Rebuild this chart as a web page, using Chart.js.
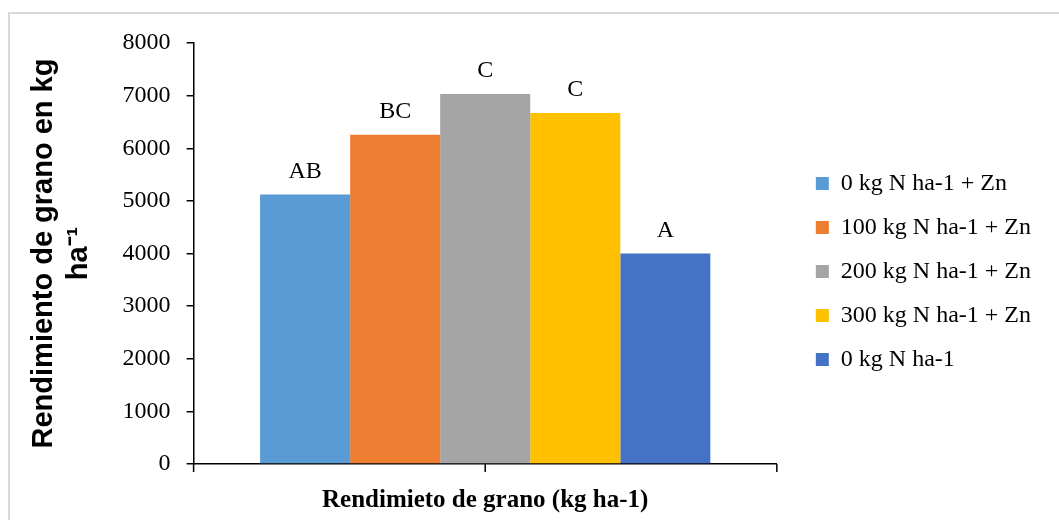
<!DOCTYPE html>
<html>
<head>
<meta charset="utf-8">
<script src="https://cdn.jsdelivr.net/npm/chart.js@4.4.1/dist/chart.umd.min.js"></script>
<style>
  html, body { margin: 0; padding: 0; background: #fff; }
  #wrap { position: relative; width: 1059px; height: 520px; overflow: hidden; }
  #frame { position: absolute; left: 8px; top: 12px; right: -10px; bottom: -10px;
           border-left: 2px solid #d9d9d9; border-top: 2px solid #d9d9d9; }
  canvas { position: absolute; left: 0; top: 0; }
</style>
</head>
<body>
<div id="wrap">
  <div id="frame"></div>
  <canvas id="c" width="1059" height="520"></canvas>
</div>
<script>
const categories = [''];
const seriesNames = ['0 kg N ha-1 + Zn', '100 kg N ha-1 + Zn', '200 kg N ha-1 + Zn', '300 kg N ha-1 + Zn', '0 kg N ha-1'];
const seriesValues = [5120, 6255, 7030, 6670, 4000];
const letterLabels = ['AB', 'BC', 'C', 'C', 'A'];
const seriesColors = ['#5b9bd5', '#ed7d31', '#a5a5a5', '#ffc000', '#4472c4'];
const yTicks = [0, 1000, 2000, 3000, 4000, 5000, 6000, 7000, 8000];

const serif = '"Liberation Serif", "Times New Roman", serif';
const sans = '"Liberation Sans", Arial, sans-serif';

const datasets = seriesNames.map((n, i) => ({
  label: n,
  data: [seriesValues[i]],
  backgroundColor: seriesColors[i],
  borderWidth: 0,
  barPercentage: 1.0,
  categoryPercentage: 0.772
}));

const letterPlugin = {
  id: 'letters',
  afterDatasetsDraw(chart) {
    const ctx = chart.ctx;
    ctx.save();
    ctx.font = '24px ' + serif;
    ctx.fillStyle = '#000';
    ctx.textAlign = 'center';
    ctx.textBaseline = 'alphabetic';
    chart.data.datasets.forEach((ds, i) => {
      const el = chart.getDatasetMeta(i).data[0];
      ctx.fillText(letterLabels[i], el.x, el.y - 17);
    });
    ctx.restore();
  }
};

const xTickPlugin = {
  id: 'xticks',
  afterDraw(chart) {
    const s = chart.scales.x;
    const ctx = chart.ctx;
    const y = s.top;
    ctx.save();
    ctx.strokeStyle = '#000';
    ctx.lineWidth = 1.5;
    ctx.beginPath();
    [s.left, s.getPixelForValue(0), s.right].forEach(x => {
      ctx.moveTo(x, y);
      ctx.lineTo(x, y + 8);
    });
    ctx.stroke();
    ctx.restore();
  }
};

// nudge the legend block inside the space it was given
const legendShift = {
  id: 'legendShift',
  afterLayout(chart) {
    const lg = chart.legend;
    if (lg) { lg.left += 19; lg.right += 19; lg.top -= 8; lg.bottom -= 8; }
  }
};

new Chart(document.getElementById('c'), {
  type: 'bar',
  data: { labels: categories, datasets },
  options: {
    responsive: false,
    animation: false,
    layout: { padding: { left: 10, top: 43, right: 37, bottom: 4 } },
    plugins: {
      tooltip: { enabled: false },
      legend: {
        position: 'right',
        labels: {
          font: { family: serif, size: 24 },
          color: '#000',
          boxWidth: 13,
          boxHeight: 13,
          padding: 20
        }
      }
    },
    scales: {
      x: {
        grid: { display: false, drawTicks: true, tickLength: 8 },
        border: { display: true, color: '#000', width: 1.5 },
        ticks: { display: false },
        title: {
          display: true,
          text: 'Rendimieto de grano (kg ha-1)',
          font: { family: serif, size: 25, weight: 'bold' },
          color: '#000',
          padding: { top: 14, bottom: 0 }
        }
      },
      y: {
        min: 0,
        max: 8000,
        afterBuildTicks(scale) { scale.ticks = yTicks.map(v => ({ value: v })); },
        grid: { drawOnChartArea: false, drawTicks: true, tickLength: 7, color: '#000', lineWidth: 1.5 },
        border: { display: true, color: '#000', width: 1.5 },
        ticks: {
          font: { family: serif, size: 24 },
          color: '#000',
          padding: 16,
          callback: (v) => String(v)
        },
        title: {
          display: true,
          text: ['Rendimiento de grano en kg', 'ha\u207B\u00B9'],
          font: { family: sans, size: 29, weight: 'bold', lineHeight: 1.2 },
          color: '#000',
          padding: { top: 17, bottom: 10 }
        }
      }
    }
  },
  plugins: [letterPlugin, xTickPlugin, legendShift]
});
</script>
</body>
</html>
